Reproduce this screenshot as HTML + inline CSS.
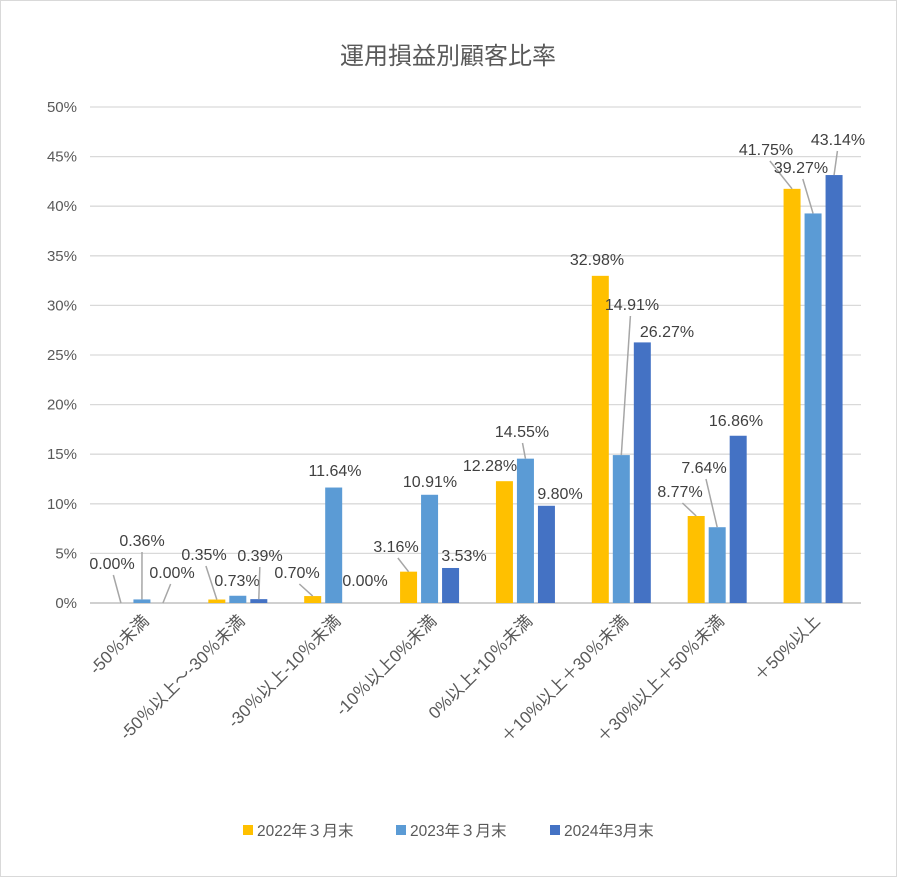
<!DOCTYPE html>
<html><head><meta charset="utf-8"><style>
body{margin:0;background:#fff}
svg{display:block;font-family:"Liberation Sans","Noto Sans CJK JP",sans-serif}
</style></head><body>
<svg id="chart" width="897" height="877" viewBox="0 0 897 877">
<rect x="0.5" y="0.5" width="896" height="876" fill="#fff" stroke="#d9d9d9"/>
<text x="448" y="64" text-anchor="middle" font-size="24" fill="#595959">運用損益別顧客比率</text>
<g id="grid"></g><g id="bars"></g><g id="labels"></g><g id="xlabels"></g><g id="legend"></g>
</svg>
<script>
const categories=["-50％未満","-50％以上～-30％未満","-30％以上-10％未満","-10％以上0%未満","0%以上+10％未満","＋10%以上＋30％未満","＋30%以上＋50％未満","＋50%以上"];
const seriesNames=["2022年３月末","2023年３月末","2024年3月末"];
const s2022=[0.00,0.35,0.70,3.16,12.28,32.98,8.77,41.75];
const s2023=[0.36,0.73,11.64,10.91,14.55,14.91,7.64,39.27];
const s2024=[0.00,0.39,0.00,3.53,9.80,26.27,16.86,43.14];
const yTicks=[0,5,10,15,20,25,30,35,40,45,50];
// label center layout offsets (px), not data
const labelPos=[
[[112,563],[142,540],[172,572]],[[204,554],[237,580],[260,555]],
[[297,572],[335,470],[365,580]],[[396,546],[430,481],[464,555]],
[[490,465],[522,431],[560,493]],[[597,259],[632,304],[667,331]],
[[680,491],[704,467],[736,420]],[[766,149],[801,167],[838,139]]];
const noLeader=[[2,2]];
const colors=["#FFC000","#5B9BD5","#4472C4"];
const series=[s2022,s2023,s2024];
const X0=94,X1=861,Y0=603,Y1=107;
const y=v=>Y0-(v/50)*(Y0-Y1);
const bw=(X1-X0)/categories.length;
const cx=i=>X0+bw*(i+0.5);
const NS="http://www.w3.org/2000/svg";
function mk(t,a,p,txt){const e=document.createElementNS(NS,t);for(const k in a)e.setAttribute(k,a[k]);if(txt!=null)e.textContent=txt;p.appendChild(e);return e;}
const g=document.getElementById('grid');
yTicks.forEach(t=>{
 const l=mk('line',{x1:90,x2:X1,y1:y(t),y2:y(t),stroke:t===0?'#d0d0d0':'#d9d9d9','stroke-width':t===0?2:1.3},g);
 
 
 const tx=mk('text',{x:77,y:y(t)+5,'text-anchor':'end','font-size':15,fill:'#595959'},g,t+'%');
 
 
});
const gb=document.getElementById('bars'),gl=document.getElementById('labels'),gx=document.getElementById('xlabels');
const W=17,gap=4;
categories.forEach((c,i)=>{
 series.forEach((s,j)=>{
  const bx=cx(i)+(j-1)*(W+gap)-W/2;
  const top=y(s[i]);
  const r=mk('rect',{x:bx,y:top,width:W,height:Math.max(Y0-top,0),fill:colors[j]},gb);
  
  
  const [lx,ly]=labelPos[i][j];
  const bxc=bx+W/2;
  const skip=noLeader.some(p=>p[0]===i&&p[1]===j);
  if(!skip && top-(ly+12)>10){
   const ln=mk('line',{x1:lx+(bxc-lx)*0.15,y1:ly+12,x2:bxc,y2:top,stroke:'#a6a6a6','stroke-width':1.5},gl);
   
   
  }
  const t=mk('text',{x:lx,y:ly+6,'text-anchor':'middle','font-size':16,fill:'#404040'},gl,s[i].toFixed(2)+'%');
  
  
 });
 const ax=cx(i)+8,ay=622;
 const t=mk('text',{x:ax,y:ay,'text-anchor':'end','font-size':17,fill:'#595959',transform:`rotate(-45 ${ax} ${ay})`},gx,c);
 
 
});
const lg=document.getElementById('legend');
const lx=[243,396,550];
seriesNames.forEach((n,j)=>{
 const r=mk('rect',{x:lx[j],y:825,width:10,height:10,fill:colors[j]},lg);
 
 
 const t=mk('text',{x:lx[j]+14,y:836,'font-size':15.5,fill:'#595959'},lg,n);
 
 
});
</script>
</body></html>
